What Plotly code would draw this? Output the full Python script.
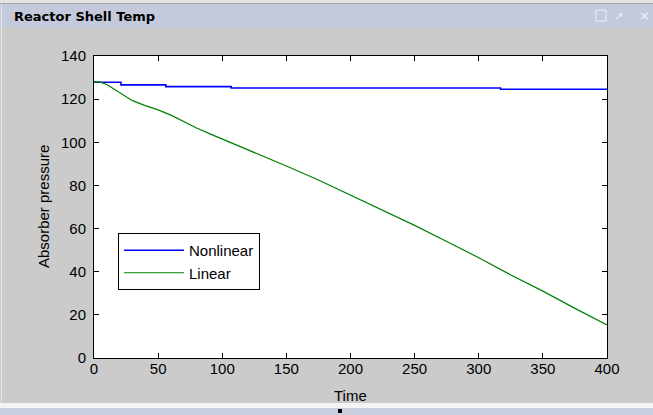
import plotly.graph_objects as go

# ---- data ----
nonlinear_time = [0, 21, 56, 107, 317, 400]
nonlinear_vals = [127.8, 126.6, 125.8, 125.2, 124.6, 124.6]

linear_time = [0, 5, 10, 15, 20, 25, 30, 40, 50, 60, 70, 80, 90, 100, 125, 150,
               175, 200, 225, 250, 275, 300, 325, 350, 375, 400]
linear_vals = [128, 127.9, 126.8, 125, 123, 121, 119.3, 117, 115, 112.6, 109.5,
               106.6, 104, 101.5, 95.5, 89, 82.5, 75.5, 68.5, 61.5, 54, 46.5,
               38.5, 31, 23, 15.3]

x_ticks = [0, 50, 100, 150, 200, 250, 300, 350, 400]
y_ticks = [0, 20, 40, 60, 80, 100, 120, 140]

W, H = 653, 415
L, R, T, B = 94, 46, 56, 57
PW, PH = W - L - R, H - T - B


def px(xp):
    return (xp - L) / PW


def py(yp):
    return (H - B - yp) / PH


FONT = "Liberation Sans, Arial, sans-serif"

fig = go.Figure()
fig.add_trace(go.Scatter(x=nonlinear_time, y=nonlinear_vals, mode="lines",
                         name="Nonlinear", line=dict(color="#0000ff", width=1.6, shape="hv")))
fig.add_trace(go.Scatter(x=linear_time, y=linear_vals, mode="lines",
                         name="Linear", line=dict(color="#008000", width=1.2)))

shapes = [
    # top light strip and separator
    dict(type="rect", xref="paper", yref="paper", x0=px(0), x1=px(W), y0=py(0), y1=py(3),
         fillcolor="#e4e4e4", line=dict(width=0), layer="below"),
    dict(type="line", xref="paper", yref="paper", x0=px(0), x1=px(W), y0=py(3.5), y1=py(3.5),
         line=dict(color="#a8a8a8", width=1)),
    # title bar
    dict(type="rect", xref="paper", yref="paper", x0=px(0), x1=px(W), y0=py(4), y1=py(27),
         fillcolor="#c4cadc", line=dict(width=0), layer="below"),
    # left light edge
    dict(type="line", xref="paper", yref="paper", x0=px(1.5), x1=px(1.5), y0=py(4), y1=py(403),
         line=dict(color="#e8e8e8", width=1)),
    # bottom white strip + blue strip
    dict(type="rect", xref="paper", yref="paper", x0=px(0), x1=px(W), y0=py(403), y1=py(408),
         fillcolor="#f4f4f4", line=dict(width=0), layer="below"),
    dict(type="rect", xref="paper", yref="paper", x0=px(0), x1=px(W), y0=py(408), y1=py(415),
         fillcolor="#c9cedf", line=dict(width=0), layer="below"),
    # small black square
    dict(type="rect", xref="paper", yref="paper", x0=px(338), x1=px(342), y0=py(409), y1=py(413),
         fillcolor="#000000", line=dict(width=0)),
    # window icon box
    dict(type="rect", xref="paper", yref="paper", x0=px(596), x1=px(606), y0=py(10), y1=py(21),
         fillcolor="rgba(0,0,0,0)", line=dict(color="#eef0f7", width=1)),
]

annotations = [
    dict(text="<b>Reactor Shell Temp</b>", x=px(12), y=py(16), xref="paper", yref="paper",
         xanchor="left", yanchor="middle", showarrow=False,
         font=dict(family="DejaVu Sans", size=13, color="#000000")),
    dict(text="↗", x=px(618), y=py(16), xref="paper", yref="paper",
         xanchor="center", yanchor="middle", showarrow=False,
         font=dict(family="DejaVu Sans", size=11, color="#eef0f7")),
    dict(text="×", x=px(637), y=py(15), xref="paper", yref="paper",
         xanchor="left", yanchor="middle", showarrow=False,
         font=dict(family="DejaVu Sans", size=13, color="#eef0f7")),
    # axis titles
    dict(text="Time", x=px(350), y=py(395), xref="paper", yref="paper",
         xanchor="center", yanchor="middle", showarrow=False,
         font=dict(family=FONT, size=15, color="#000000")),
    dict(text="Absorber pressure", x=px(43), y=py(207), xref="paper", yref="paper",
         xanchor="center", yanchor="middle", showarrow=False, textangle=-90,
         font=dict(family=FONT, size=15, color="#000000")),
]

fig.update_layout(
    width=W, height=H,
    margin=dict(l=L, r=R, t=T, b=B, pad=0),
    paper_bgcolor="#cbcbcb",
    plot_bgcolor="#ffffff",
    font=dict(family=FONT, size=15, color="#000000"),
    showlegend=True,
    legend=dict(x=px(118), y=py(233), xanchor="left", yanchor="top",
                bgcolor="#ffffff", bordercolor="#000000", borderwidth=1,
                font=dict(family=FONT, size=15, color="#000000"),
                itemwidth=60, tracegroupgap=0),
    shapes=shapes,
    annotations=annotations,
    xaxis=dict(range=[0, 400], tickmode="array", tickvals=x_ticks,
               ticks="inside", ticklen=5, tickcolor="#000000", tickwidth=1,
               showline=True, linecolor="#000000", linewidth=1, mirror="ticks",
               showgrid=False, zeroline=False, automargin=False,
               ticklabelstandoff=-3),
    yaxis=dict(range=[0, 140], tickmode="array", tickvals=y_ticks,
               ticks="inside", ticklen=5, tickcolor="#000000", tickwidth=1,
               showline=True, linecolor="#000000", linewidth=1, mirror="ticks",
               showgrid=False, zeroline=False, automargin=False,
               ticklabelstandoff=4),
)

fig.write_html("out.html")
